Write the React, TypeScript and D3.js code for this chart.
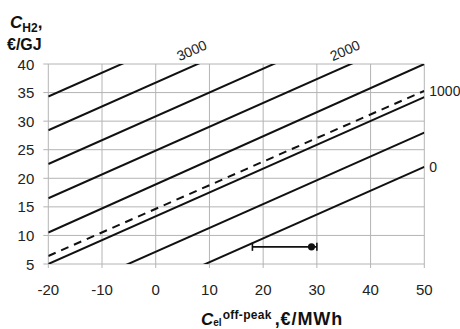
import React from 'react';
import * as d3 from 'd3';

// C_el off-peak axis, C_H2 axis
const xTicks = [-20, -10, 0, 10, 20, 30, 40, 50];
const yTicks = [5, 10, 15, 20, 25, 30, 35, 40];

// iso-lines: C_H2 read at C_el = -20 and C_el = 50
const solidAtLeft = [34.3, 28.4, 22.5, 16.5, 10.5, 5.0, -1.2, -7.2];
const solidAtRight = [63.5, 57.6, 51.7, 45.7, 40.0, 34.2, 28.0, 22.0];
const dashedAtLeft = 6.4;
const dashedAtRight = 35.3;

// labels on the top crossings (line index) and at the right ends
const topLabels = [
  { line: 1, text: '3000' },
  { line: 3, text: '2000' },
];
const rightLabels = [
  { value: dashedAtRight, text: '1000' },
  { value: solidAtRight[7], text: '0' },
];

// measured point with range
const point = { x: 29, y: 8 };
const pointRange = [18, 30];

const W = 460;
const H = 329;
const FONT = '"Liberation Sans", Arial, sans-serif';

export default function App() {
  const x = d3.scaleLinear().domain([-20, 50]).range([48.3, 424.3]);
  const y = d3.scaleLinear().domain([5, 40]).range([264, 64]);
  const [x0, x1] = x.domain();
  const [, yTop] = y.domain();

  const line = d3.line<[number, number]>().x(d => x(d[0])).y(d => y(d[1]));
  const slopeDeg = (i: number) => {
    const dy = y(solidAtRight[i]) - y(solidAtLeft[i]);
    const dx = x(x1) - x(x0);
    return (Math.atan2(dy, dx) * 180) / Math.PI;
  };

  return (
    <svg width={W} height={H} style={{ position: 'absolute', left: 0, top: 0, background: '#fff' }} fontFamily={FONT}>
      <defs>
        <clipPath id="plot">
          <rect x={x(x0)} y={y(yTop)} width={x(x1) - x(x0)} height={y(5) - y(yTop)} />
        </clipPath>
      </defs>

      {/* grid */}
      <g stroke="#b4b4b4" strokeWidth={1}>
        {xTicks.map(t => (
          <line key={'gx' + t} x1={x(t)} x2={x(t)} y1={y(5)} y2={y(40)} />
        ))}
        {yTicks.map(t => (
          <line key={'gy' + t} x1={x(-20)} x2={x(50)} y1={y(t)} y2={y(t)} />
        ))}
        {xTicks.map(t => (
          <line key={'tx' + t} x1={x(t)} x2={x(t)} y1={y(5)} y2={y(5) + 4} />
        ))}
        {yTicks.map(t => (
          <line key={'ty' + t} x1={x(-20) - 5} x2={x(-20)} y1={y(t)} y2={y(t)} />
        ))}
      </g>

      {/* tick labels */}
      <g fontSize={15} fill="#222">
        {xTicks.map(t => (
          <text key={'lx' + t} x={x(t)} y={y(5) + 31} textAnchor="middle">{t}</text>
        ))}
        {yTicks.map(t => (
          <text key={'ly' + t} x={x(-20) - 14} y={y(t) + 5.5} textAnchor="end">{t}</text>
        ))}
      </g>

      {/* iso-lines */}
      <g clipPath="url(#plot)" fill="none" stroke="#111" strokeWidth={2}>
        {solidAtLeft.map((v, i) => (
          <path key={'s' + i} d={line([[x0, v], [x1, solidAtRight[i]]]) || ''} />
        ))}
        <path d={line([[x0, dashedAtLeft], [x1, dashedAtRight]]) || ''} strokeDasharray="8,6" />
      </g>

      {/* line labels */}
      <g fontSize={14} fill="#222">
        {topLabels.map(l => {
          const v0 = solidAtLeft[l.line];
          const v1 = solidAtRight[l.line];
          const cx = x0 + ((yTop - v0) / (v1 - v0)) * (x1 - x0);
          const px = x(cx) - 4;
          const py = y(yTop) - 9;
          return (
            <text key={l.text} x={px} y={py} textAnchor="middle" transform={`rotate(${slopeDeg(l.line)},${px},${py})`}>
              {l.text}
            </text>
          );
        })}
        {rightLabels.map(l => (
          <text key={l.text} x={x(x1) + 5} y={y(l.value) + 2} dominantBaseline="middle" dy="-0.05em">
            {l.text}
          </text>
        ))}
      </g>

      {/* point with range */}
      <g stroke="#111" strokeWidth={1.6}>
        <line x1={x(pointRange[0])} x2={x(pointRange[1])} y1={y(point.y)} y2={y(point.y)} />
        {pointRange.map(r => (
          <line key={'c' + r} x1={x(r)} x2={x(r)} y1={y(point.y) - 4} y2={y(point.y) + 4} />
        ))}
      </g>
      <circle cx={x(point.x)} cy={y(point.y)} r={3.6} fill="#111" />

      {/* axis titles */}
      <g fontWeight="bold" fill="#111">
        <text x={10} y={28} fontSize={17}>
          <tspan fontStyle="italic">C</tspan>
          <tspan fontSize={12} dy={4}>H2</tspan>
          <tspan dy={-4}>,</tspan>
        </text>
        <text x={7} y={50} fontSize={16}>€/GJ</text>
        <text x={201} y={325} fontSize={17}>
          <tspan fontStyle="italic">C</tspan>
          <tspan fontSize={10} dy={1}>el</tspan>
          <tspan fontSize={12} dx={1} dy={-7} letterSpacing={0.3}>off-peak</tspan>
          <tspan dx={3} dy={6} fontSize={18} letterSpacing={0.9}>,€/MWh</tspan>
        </text>
      </g>
    </svg>
  );
}
